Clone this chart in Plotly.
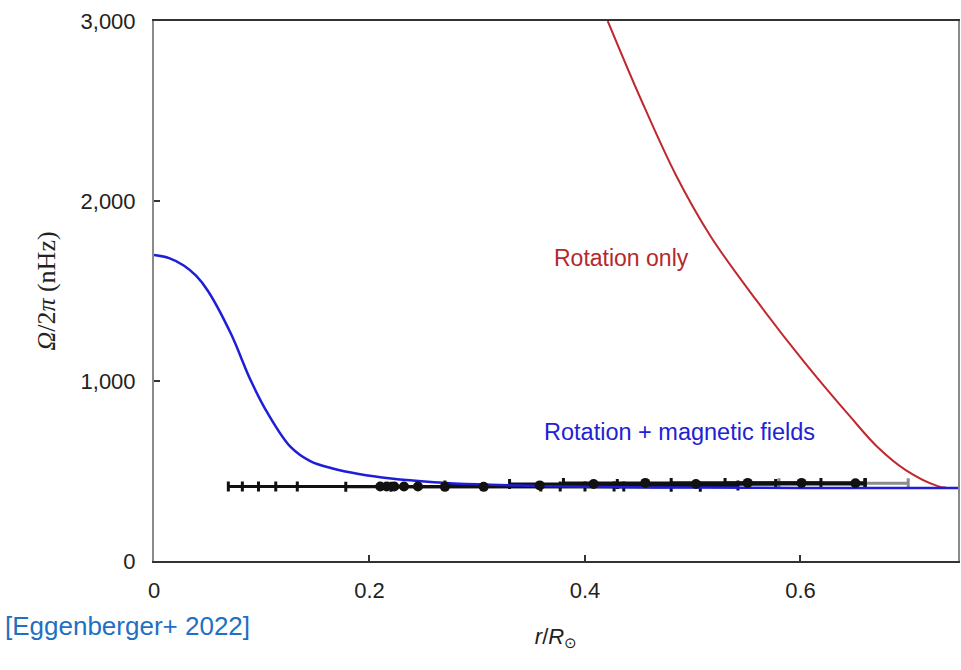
import plotly.graph_objects as go

# Internal rotation profile models (r/R_sun, Omega/2pi in nHz)
mag_r = [0.0, 0.014, 0.0276, 0.039, 0.0498, 0.0712, 0.0897, 0.1055, 0.127, 0.1455, 0.165,
         0.19, 0.22, 0.26, 0.30, 0.35, 0.40, 0.50, 0.60, 0.70, 0.75]
mag_omega = [1700, 1683, 1642, 1585, 1503, 1265, 1004, 821, 632, 553, 515,
             483, 458, 438, 426, 418, 412, 408, 406, 405, 405]

rot_r = [0.4211, 0.4517, 0.4842, 0.5167, 0.5585, 0.6030, 0.6466, 0.6717, 0.6977, 0.7274, 0.735]
rot_omega = [3000, 2568, 2146, 1803, 1453, 1109, 799, 632, 505, 416, 408]

# Helioseismic inversion results with radial resolution (asymmetric widths)
obs_r = [0.210, 0.216, 0.223, 0.232, 0.245, 0.270, 0.306, 0.358, 0.408, 0.456,
         0.503, 0.551, 0.601, 0.651]
obs_omega = [414, 414, 414, 414, 414, 412, 412, 420, 428, 434, 428, 434, 434, 432]
obs_lo = [0.069, 0.082, 0.097, 0.113, 0.133, 0.178, 0.22, 0.27, 0.33, 0.38,
          0.43, 0.48, 0.53, 0.58]
obs_hi = [0.359, 0.377, 0.40, 0.427, 0.436, 0.48, 0.507, 0.542, 0.577, 0.619,
          0.66, 0.66, 0.66, 0.70]

err_plus = [h - r for h, r in zip(obs_hi, obs_r)]
err_minus = [r - l for l, r in zip(obs_lo, obs_r)]

FONT = "Liberation Sans, Arial, Helvetica, sans-serif"
SERIF = "Liberation Serif, Times New Roman, serif"

fig = go.Figure()

fig.add_trace(go.Scatter(
    x=rot_r, y=rot_omega, mode="lines", line=dict(color="#c0282d", width=2, shape="spline"),
    hoverinfo="skip", showlegend=False))

# outermost kernel drawn lighter, underneath the others
fig.add_trace(go.Scatter(
    x=obs_r[-1:], y=obs_omega[-1:], mode="markers", marker=dict(size=1, color="rgba(0,0,0,0)"),
    error_x=dict(type="data", symmetric=False, array=err_plus[-1:], arrayminus=err_minus[-1:],
                 color="#8c8c8c", thickness=3, width=5),
    showlegend=False))

fig.add_trace(go.Scatter(
    x=obs_r[:-1], y=obs_omega[:-1], mode="markers", marker=dict(size=1, color="rgba(0,0,0,0)"),
    error_x=dict(type="data", symmetric=False, array=err_plus[:-1], arrayminus=err_minus[:-1],
                 color="#111111", thickness=3, width=5),
    showlegend=False))

fig.add_trace(go.Scatter(
    x=mag_r, y=mag_omega, mode="lines", line=dict(color="#1e1ed8", width=2.5, shape="spline"),
    hoverinfo="skip", showlegend=False))

fig.add_trace(go.Scatter(
    x=obs_r, y=obs_omega, mode="markers", marker=dict(size=10, color="#111111"),
    showlegend=False))

fig.add_annotation(x=0.434, y=1686, xref="x", yref="y", text="Rotation only",
                   showarrow=False, font=dict(family=FONT, size=23, color="#b5282e"))
fig.add_annotation(x=0.488, y=715, xref="x", yref="y", text="Rotation + magnetic fields",
                   showarrow=False, font=dict(family=FONT, size=23.5, color="#2222d4"))
fig.add_annotation(x=-0.188, y=-0.152, xref="paper", yref="paper", xanchor="left",
                   text="[Eggenberger+ 2022]", showarrow=False,
                   font=dict(family=FONT, size=26, color="#1f6fc2"))

fig.update_layout(
    width=961, height=670,
    margin=dict(l=154, r=3, t=21, b=109, autoexpand=False),
    paper_bgcolor="white", plot_bgcolor="white",
    font=dict(family=FONT, size=22, color="#222222"),
    showlegend=False,
)

fig.update_xaxes(
    range=[0, 0.7462], tickvals=[0, 0.2, 0.4, 0.6], ticktext=["0", "0.2", "0.4", "0.6"],
    ticks="inside", ticklen=6, tickwidth=2, tickcolor="#333333",
    showline=True, linecolor="#333333", linewidth=2, mirror=True,
    showgrid=False, zeroline=False, ticklabelstandoff=9,
    title=dict(text="<i>r</i>/<i>R</i><sub>⊙</sub>", standoff=26,
               font=dict(family=FONT, size=22, color="#222222")),
)
fig.update_yaxes(
    range=[0, 3000], tickvals=[0, 1000, 2000, 3000], tickformat=",",
    ticks="inside", ticklen=6, tickwidth=2, tickcolor="#333333",
    showline=True, linecolor="#8a8a8a", linewidth=2, mirror=True,
    showgrid=False, zeroline=False, ticklabelstandoff=12,
    title=dict(text="<i>Ω</i>/2<i>π</i> (nHz)", standoff=17,
               font=dict(family=SERIF, size=26, color="#222222")),
)

fig.write_html("out.html")
